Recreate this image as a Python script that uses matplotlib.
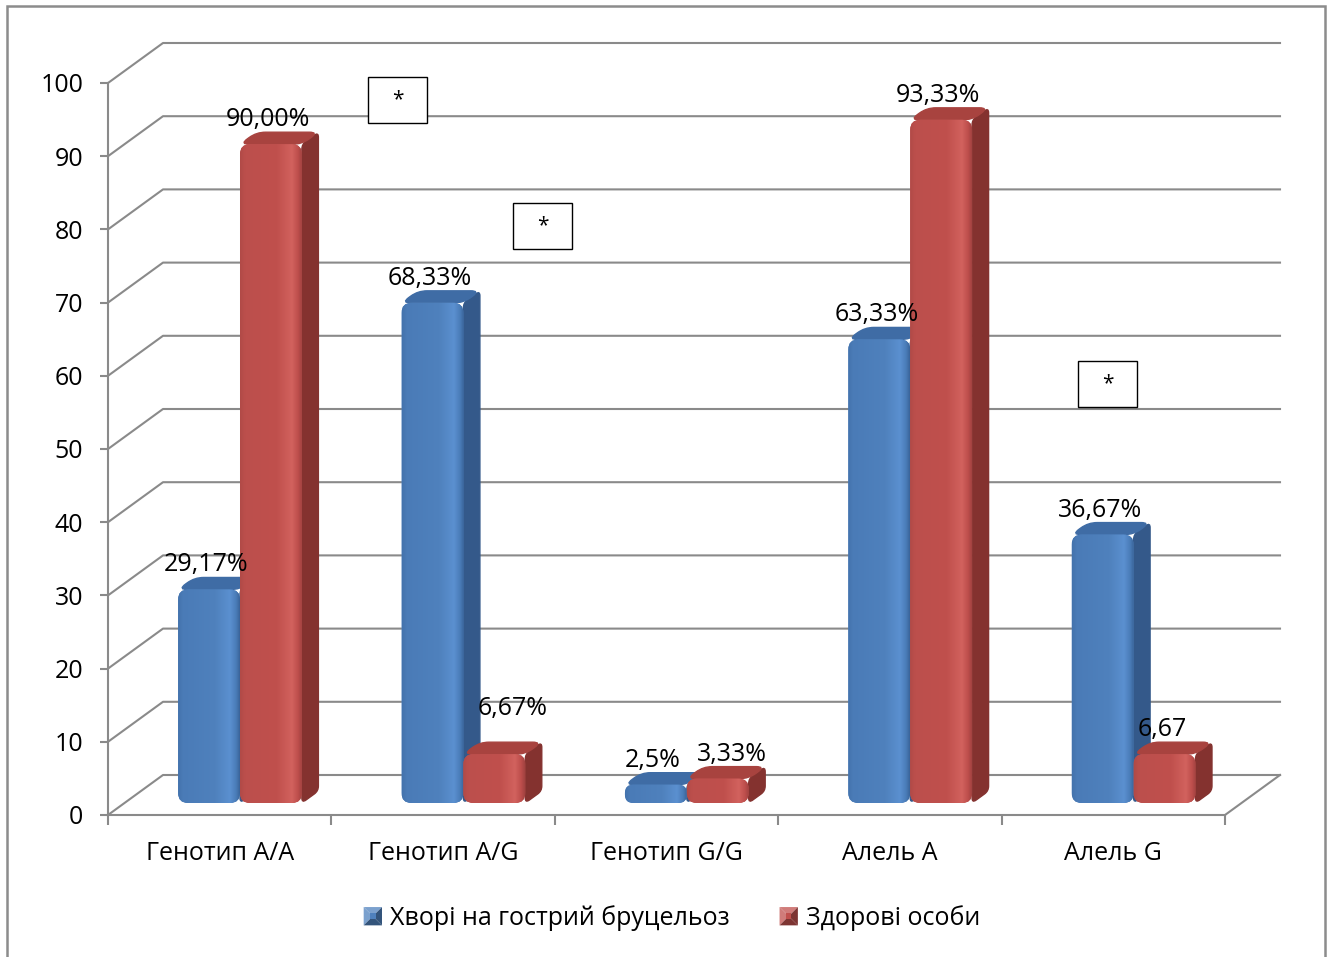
import numpy as np
import matplotlib
matplotlib.use("Agg")
import matplotlib.pyplot as plt
from matplotlib.colors import LinearSegmentedColormap, to_rgb
from matplotlib.legend_handler import HandlerBase
from matplotlib.lines import Line2D
from matplotlib.path import Path
from matplotlib.patches import FancyBboxPatch, PathPatch, Polygon, Rectangle
from matplotlib.transforms import IdentityTransform

plt.rcParams["font.family"] = ["Open Sans", "DejaVu Sans"]

categories = ["Генотип A/A", "Генотип A/G", "Генотип G/G", "Алель A", "Алель G"]
patients = [29.17, 68.33, 2.5, 63.33, 36.67]
healthy = [90.00, 6.67, 3.33, 93.33, 6.67]
patients_text = ["29,17%", "68,33%", "2,5%", "63,33%", "36,67%"]
healthy_text = ["90,00%", "6,67%", "3,33%", "93,33%", "6,67"]
series_names = ["Хворі на гострий бруцельоз", "Здорові особи"]
yticks = list(range(0, 101, 10))

W, H = 1330, 957
GRID = "#8A8A8A"
DEPTH = np.array([55.0, 40.0])     # oblique depth of the floor, px
BAR_X0, BAR_W = 0.24, 0.277        # in category units
D_FRONT, D_BACK = 0.30, 0.60       # bar depth as fraction of the floor
FS = 18
PX = IdentityTransform()

BLUE = dict(
    cmap=LinearSegmentedColormap.from_list("b", [
        (0.0, "#4473AD"), (0.08, "#4A7BB7"), (0.6, "#4F81BD"),
        (0.84, "#5B90D0"), (0.94, "#4A7CB8"), (1.0, "#3A6499")]),
    face="#4F81BD", side="#34598A", top="#3F6CA5")
RED = dict(
    cmap=LinearSegmentedColormap.from_list("r", [
        (0.0, "#B04A47"), (0.08, "#BC4F4C"), (0.6, "#C0504D"),
        (0.84, "#D2625E"), (0.94, "#BD4E4B"), (1.0, "#A14240")]),
    face="#C0504D", side="#84322F", top="#A8433F")

# label nudges (px) for the small bars whose labels were moved off the bar
healthy_nudge = [(0, 0), (21, 21), (17, 0), (0, 0), (0, 0)]

fig = plt.figure(figsize=(W / 100, H / 100), dpi=100)
ax = fig.add_axes([108 / W, 142 / H, 1117 / W, 732 / H])
ax.set_xlim(0, 5)
ax.set_ylim(0, 100)
ax.patch.set_visible(False)
for s in ("top", "right"):
    ax.spines[s].set_visible(False)
for s in ("left", "bottom"):
    ax.spines[s].set_color(GRID)
    ax.spines[s].set_linewidth(1.5)

ax.set_yticks(yticks)
ax.tick_params(axis="y", length=5.8, width=1.5, color=GRID, pad=12,
               labelsize=FS, labelcolor="black")
ax.set_xticks(range(6))
ax.set_xticklabels([])
ax.tick_params(axis="x", which="major", length=7.2, width=1.5, color=GRID)
ax.set_xticks([i + 0.5 for i in range(5)], minor=True)
ax.set_xticklabels(categories, minor=True)
ax.tick_params(axis="x", which="minor", length=0, pad=19, labelsize=FS)


def proj(x, v, d):
    return ax.transData.transform((x, v)) + d * DEPTH


def rounded(pts, r):
    """Closed polygon path with corners cut by quadratic curves."""
    pts = [np.asarray(p, float) for p in pts]
    n = len(pts)
    verts, codes = [], []
    for i in range(n):
        p, a, b = pts[i], pts[i - 1], pts[(i + 1) % n]
        ua, ub = a - p, b - p
        ra = min(r, np.linalg.norm(ua) / 2)
        rb = min(r, np.linalg.norm(ub) / 2)
        p_in = p + ua / max(np.linalg.norm(ua), 1e-9) * ra
        p_out = p + ub / max(np.linalg.norm(ub), 1e-9) * rb
        verts += [p_in, p, p_out]
        codes += [Path.MOVETO if i == 0 else Path.LINETO, Path.CURVE3, Path.CURVE3]
    verts.append(verts[0])
    codes.append(Path.CLOSEPOLY)
    return Path(verts, codes)


# side wall diagonals + back wall gridlines
for v in yticks:
    pts = np.array([proj(0, v, 0), proj(0, v, 1), proj(5, v, 1)])
    ax.add_line(Line2D(pts[:, 0], pts[:, 1], color=GRID, lw=1.5,
                       transform=PX, zorder=1, clip_on=False))
edge = np.array([proj(5, 0, 0), proj(5, 0, 1)])
ax.add_line(Line2D(edge[:, 0], edge[:, 1], color=GRID, lw=1.5,
                   transform=PX, zorder=1, clip_on=False))


def draw_bar(x0, v, st, z):
    x1 = x0 + BAR_W
    side = [proj(x1, 0, D_FRONT), proj(x1, 0, D_BACK),
            proj(x1, v, D_BACK), proj(x1, v, D_FRONT)]
    top = [proj(x0, v, D_FRONT), proj(x1, v, D_FRONT),
           proj(x1, v, D_BACK), proj(x0, v, D_BACK)]
    ax.add_patch(PathPatch(rounded(side, 5), fc=st["side"], ec=st["side"],
                           lw=1, transform=PX, zorder=z, clip_on=False))
    ax.add_patch(PathPatch(rounded(top, 9), fc=st["top"], ec=st["top"],
                           lw=1, transform=PX, zorder=z, clip_on=False))
    bl, tr = proj(x0, 0, D_FRONT), proj(x1, v, D_FRONT)
    w, h = tr[0] - bl[0], tr[1] - bl[1]
    r = min(10, h / 2.2)
    face = FancyBboxPatch(bl, w, h, boxstyle=f"round,pad=0,rounding_size={r}",
                          fc=st["face"], ec="none", transform=PX, zorder=z,
                          clip_on=False)
    ax.add_patch(face)
    im = ax.imshow(np.linspace(0, 1, 256).reshape(1, -1), cmap=st["cmap"],
                   extent=(bl[0], tr[0], bl[1], tr[1]), transform=PX,
                   aspect="auto", interpolation="bilinear", zorder=z)
    im.set_clip_path(face)


z = 3
for i in range(len(categories)):
    draw_bar(i + BAR_X0, patients[i], BLUE, z)
    draw_bar(i + BAR_X0 + BAR_W, healthy[i], RED, z + 1)
    z += 2

ax.set_xlim(0, 5)
ax.set_ylim(0, 100)

# value labels
for i in range(len(categories)):
    for k, (vals, texts) in enumerate(((patients, patients_text),
                                       (healthy, healthy_text))):
        xc = i + BAR_X0 + BAR_W * (k + 0.5)
        nx, ny = healthy_nudge[i] if k == 1 else (0, 0)
        p = proj(xc, vals[i], 0.25) + np.array([nx, 20 + ny])
        ax.text(p[0], p[1], texts[i], transform=PX, ha="center",
                va="baseline", fontsize=FS, zorder=50)

# significance marks
for bx, by in [(368, 77), (513, 203), (1078, 361)]:
    fig.add_artist(Rectangle((bx, H - by - 46), 59, 46, fc="white",
                             ec="black", lw=1.0, transform=PX))
    fig.text(bx + 29.5, H - by - 23, "*", transform=PX, ha="center",
             va="center", fontsize=15)


class BevelSquare(HandlerBase):
    def create_artists(self, legend, orig, xd, yd, width, height, fontsize, trans):
        c = np.array(to_rgb(orig.get_facecolor()))
        light, dark = c + (1 - c) * 0.25, c * 0.65
        s = min(width, height)
        x0, y0 = -xd + (width - s) / 2, -yd + (height - s) / 2
        cx, cy = x0 + s / 2, y0 + s / 2
        A, B, C, D = (x0, y0), (x0 + s, y0), (x0 + s, y0 + s), (x0, y0 + s)
        parts = [([D, A, (cx, cy)], light), ([D, C, (cx, cy)], light),
                 ([B, C, (cx, cy)], dark), ([A, B, (cx, cy)], dark)]
        arts = [Polygon(p, closed=True, fc=col, ec="none", transform=trans)
                for p, col in parts]
        inner = s * 0.3
        arts.append(Rectangle((cx - inner / 2, cy - inner / 2), inner, inner,
                              fc=c, ec="none", transform=trans))
        return arts


handles = [Rectangle((0, 0), 1, 1, fc=BLUE["face"]),
           Rectangle((0, 0), 1, 1, fc=RED["face"])]
fig.legend(handles, series_names, loc="center", bbox_to_anchor=(0.505, 39 / H),
           ncol=2, frameon=False, fontsize=FS, handlelength=0.75,
           handleheight=0.75, handletextpad=0.3, columnspacing=2.0,
           handler_map={Rectangle: BevelSquare()})

# chart area border
fig.add_artist(Rectangle((7, -10), 1318, H - 6 + 10, fc="none", ec="#8C8C8C",
                         lw=1.8, transform=PX))

fig.savefig("out.png", dpi=100, facecolor="white")
